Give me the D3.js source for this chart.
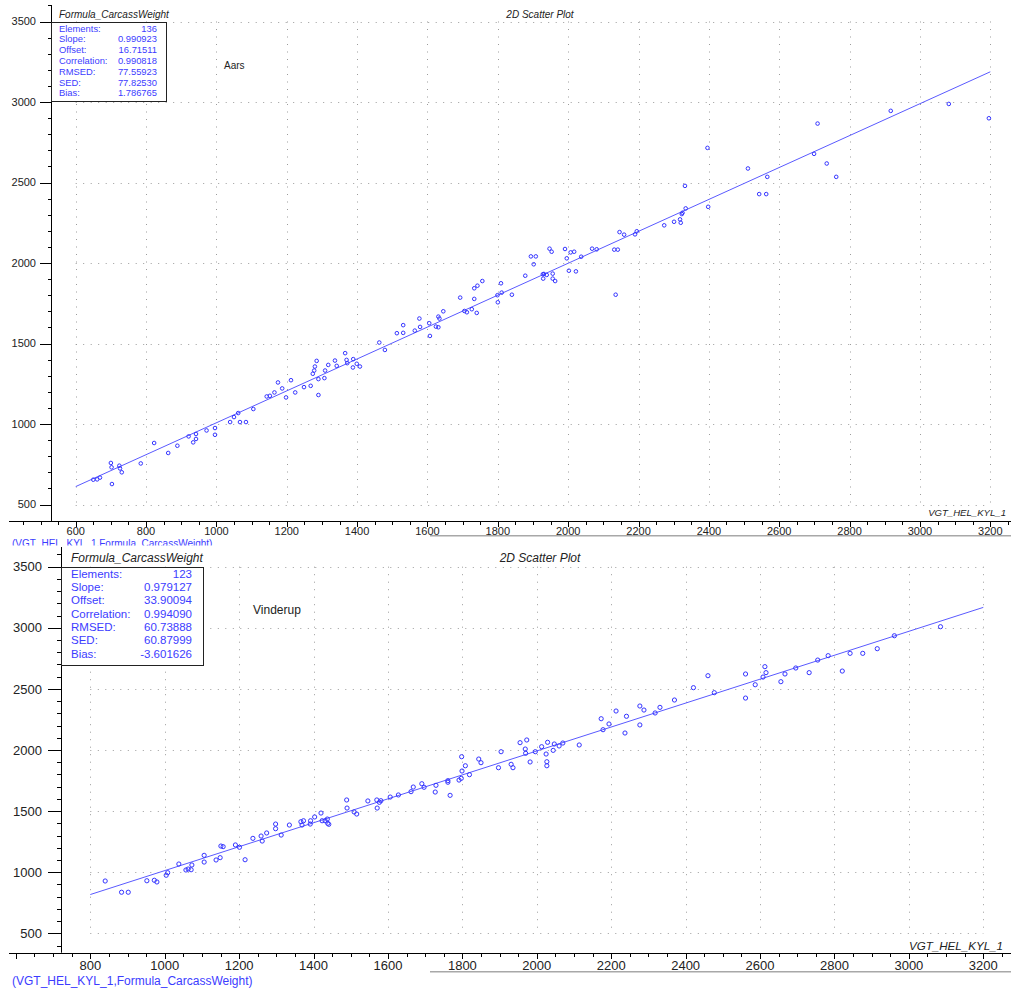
<!DOCTYPE html>
<html>
<head>
<meta charset="utf-8">
<script src="https://cdn.jsdelivr.net/npm/d3@7"></script>
<style>
  html, body { margin: 0; padding: 0; background: #fff; }
  svg { display: block; font-family: "Liberation Sans", Arial, sans-serif; }
</style>
</head>
<body>
<svg id="chart" width="1011" height="988"></svg>
<script>
// ---- Data: Aars site (reference x vs formula y) ----
const aarsX = [1513,1463,1479,1366,1370,1389,1399,1408,1388,1372,1337,1342,1318,1285,1280,1278,1274,1309,1307,1290,
  1290,1268,1249,1224,1212,1198,1187,1175,1165,1152,1143,1105,1084,1067,1039,1062,1050,996,996,972,
  942,921,942,934,889,863,823,785,724,700,702,726,731,703,669,661,650,
  1531,1531,1564,1577,1579,1605,1607,1624,1631,1631,1634,1645,1693,1705,1712,1726,1733,1740,1733,1742,
  1756,1799,1800,1809,1811,1840,1878,1894,1908,1902,1928,1931,1939,1929,1947,1953,1956,1956,1963,1991,
  1996,2002,2007,2017,2022,2037,2068,2081,2131,2141,2135,2146,2159,2190,2195,2273,2301,
  2318,2320,2323,2325,2334,2332,2396,2398,2511,2543,2563,2566,2699,2709,2735,2762,2917,3082,3196];
const aarsY = [1564,1506,1460,1440,1398,1403,1374,1357,1351,1378,1394,1361,1367,1392,1357,1332,1312,1332,1285,1279,
  1180,1237,1229,1196,1272,1165,1221,1258,1196,1175,1171,1093,1012,1012,1012,1068,1043,975,933,960,
  938,923,907,886,865,820,882,755,741,758,731,724,700,627,667,656,654,
  1614,1566,1580,1655,1603,1626,1547,1605,1601,1667,1655,1700,1785,1702,1694,1713,1777,1690,1843,1859,
  1888,1800,1756,1874,1816,1803,1921,2041,2041,1992,1930,1932,1926,1903,2089,2070,1934,1903,1888,2087,
  2029,1952,2066,2070,1948,2039,2089,2085,2083,2083,1803,2192,2176,2178,2197,2234,2256,
  2271,2250,2304,2312,2339,2479,2715,2349,2587,2428,2428,2535,2678,2866,2618,2535,2945,2988,2899];

// ---- Data: Vinderup site ----
const vinderupX = [840,884,902,952,972,979,1004,1008,1038,1057,1063,1071,1073,1106,1106,1138,1149,1151,1157,1190,
  1201,1216,1237,1259,1262,1274,1298,1298,1313,1335,1366,1373,1369,1392,1391,1403,1420,1423,1431,1437,
  1438,1441,1489,1490,1509,1516,1546,1570,1577,1571,1581,1606,1628,
  1662,1668,1691,1697,1727,1729,1761,1761,1767,1791,1797,1799,1798,1808,1819,1844,1850,1897,1904,1931,
  1936,1955,1973,1969,1970,1982,1996,2013,2025,2029,2027,2027,2044,2047,2060,2070,2114,2173,2178,2194,
  2213,2237,2241,2277,2277,2288,2318,2331,2370,
  2421,2460,2477,2561,2561,2587,2608,2613,2616,2656,2667,2696,2732,2755,2783,2821,2842,2876,2915,2961,3085];
const vinderupY = [928,836,836,930,934,920,975,996,1067,1018,1026,1020,1059,1138,1083,1100,1119,1214,1209,1223,
  1204,1102,1277,1296,1255,1321,1394,1356,1304,1386,1413,1421,1386,1421,1394,1452,1484,1421,1421,1435,
  1400,1392,1591,1525,1493,1476,1583,1591,1572,1525,1585,1615,1632,
  1659,1697,1724,1695,1656,1711,1749,1736,1629,1754,1768,1828,1945,1871,1798,1926,1896,1855,1986,1883,
  1855,2060,2082,2008,1973,1902,1986,2027,1967,2063,1904,1871,1997,2049,2033,2057,2041,2256,2166,2213,
  2319,2139,2276,2205,2360,2327,2303,2349,2409,
  2510,2608,2469,2622,2425,2534,2597,2682,2633,2559,2622,2671,2633,2736,2772,2646,2791,2791,2829,2935,3009];

// ---- Regression statistics shown in the boxes ----
const statLabels = ["Elements:", "Slope:", "Offset:", "Correlation:", "RMSED:", "SED:", "Bias:"];
const aarsStats = ["136", "0.990923", "16.71511", "0.990818", "77.55923", "77.82530", "1.786765"];
const vinderupStats = ["123", "0.979127", "33.90094", "0.994090", "60.73888", "60.87999", "-3.601626"];

// ---- Axis ticks and texts ----
const aarsXTicks = [600, 800, 1000, 1200, 1400, 1600, 1800, 2000, 2200, 2400, 2600, 2800, 3000, 3200];
const vinderupXTicks = [800, 1000, 1200, 1400, 1600, 1800, 2000, 2200, 2400, 2600, 2800, 3000, 3200];
const yTicks = [500, 1000, 1500, 2000, 2500, 3000, 3500];
const xFieldName = "VGT_HEL_KYL_1";
const yFieldName = "Formula_CarcassWeight";
const plotTitle = "2D Scatter Plot";
const pairLabel = "(VGT_HEL_KYL_1,Formula_CarcassWeight)";

// ---- Panel layout ----
const panels = [
  {
    site: "Aars", xs: aarsX, ys: aarsY, stats: aarsStats, xTicks: aarsXTicks,
    clip: [0, 0, 1011, 545.5],
    xRange: [75.7, 990.3], yRange: [504.5, 21.5],
    yAxisX: 51, axisTop: 5, xAxisY: 521, axisLeft: 9, axisRight: 1011,
    tickFont: 11, yLabelRight: 36, yMajor: 11, yMinor: 3, xMajor: 5, xMinor: 3, xLabelBase: 534.5,
    titleX: 59, titleBase: 17.5, titleFont: 10,
    box: [51, 21.5, 166, 100], statFont: 9.4, statLabelX: 59, statValueX: 157, statBase: 31.6, statStep: 10.8,
    siteX: 224, siteBase: 68.5, siteFont: 10,
    xTitleRight: 1006, xTitleBase: 515.5, xTitleFont: 9.6,
    pairX: 12, pairBase: 546.5, pairFont: 10,
    sepY: 535.7, sepX0: 430,
    r: 1.8
  },
  {
    site: "Vinderup", xs: vinderupX, ys: vinderupY, stats: vinderupStats, xTicks: vinderupXTicks,
    clip: [0, 545.5, 1011, 442.5],
    xRange: [90.3, 983.3], yRange: [933.3, 566.7],
    yAxisX: 61, axisTop: 547, xAxisY: 952.7, axisLeft: 9, axisRight: 1011,
    tickFont: 13, yLabelRight: 42, yMajor: 13, yMinor: 4, xMajor: 5, xMinor: 3, xLabelBase: 970,
    titleX: 71, titleBase: 561.5, titleFont: 12,
    box: [61, 566.7, 203, 664.3], statFont: 11.5, statLabelX: 71, statValueX: 192, statBase: 577.6, statStep: 13.33,
    siteX: 253, siteBase: 613.5, siteFont: 12,
    xTitleRight: 1003, xTitleBase: 949.5, xTitleFont: 11.6,
    pairX: 12, pairBase: 984.5, pairFont: 12,
    sepY: 971.7, sepX0: 430,
    r: 2.1
  }
];

const svg = d3.select("#chart");
const defs = svg.append("defs");
const BLUE = "#3c3cff";
const GRID = "#9c9c9c";

panels.forEach((p, i) => {
  const xDom = [p.xTicks[0], p.xTicks[p.xTicks.length - 1]];
  const x = d3.scaleLinear().domain(xDom).range(p.xRange);
  const y = d3.scaleLinear().domain([yTicks[0], yTicks[yTicks.length - 1]]).range(p.yRange);

  defs.append("clipPath").attr("id", "panel" + i)
    .append("rect").attr("x", p.clip[0]).attr("y", p.clip[1]).attr("width", p.clip[2]).attr("height", p.clip[3]);
  const g = svg.append("g").attr("clip-path", `url(#panel${i})`);

  // separator at the foot of the panel
  g.append("line").attr("x1", p.sepX0).attr("x2", 1011).attr("y1", p.sepY).attr("y2", p.sepY)
    .attr("stroke", "#a8a8a8").attr("stroke-width", 1.5);

  // dotted grid over the tick box
  const grid = g.append("g").attr("stroke", GRID).attr("stroke-width", 1).attr("stroke-dasharray", "1,6.5");
  p.xTicks.forEach(t => grid.append("line")
    .attr("x1", Math.round(x(t)) + 0.5).attr("x2", Math.round(x(t)) + 0.5)
    .attr("y1", y(yTicks[yTicks.length - 1])).attr("y2", y(yTicks[0])));
  yTicks.forEach(t => grid.append("line")
    .attr("x1", x(xDom[0])).attr("x2", x(xDom[1]))
    .attr("y1", Math.round(y(t)) + 0.5).attr("y2", Math.round(y(t)) + 0.5));

  // axes
  const ax = g.append("g").attr("stroke", "#000").attr("stroke-width", 1);
  ax.append("line").attr("x1", p.axisLeft).attr("x2", p.axisRight)
    .attr("y1", Math.round(p.xAxisY) + 0.5).attr("y2", Math.round(p.xAxisY) + 0.5);
  ax.append("line").attr("x1", p.yAxisX + 0.5).attr("x2", p.yAxisX + 0.5)
    .attr("y1", p.axisTop).attr("y2", p.xAxisY);

  // x ticks: major every 200, minor every 50 along the whole axis line
  const xLo = Math.ceil(x.invert(p.axisLeft) / 50) * 50, xHi = x.invert(p.axisRight);
  d3.range(xLo, xHi, 50).forEach(v => {
    const major = v % 200 === 0;
    const px = Math.round(x(v)) + 0.5;
    ax.append("line").attr("x1", px).attr("x2", px)
      .attr("y1", Math.round(p.xAxisY)).attr("y2", Math.round(p.xAxisY) + 1 + (major ? p.xMajor : p.xMinor));
  });
  // y ticks: major every 500, minor every 100
  const yLo = Math.ceil(y.invert(p.xAxisY) / 100) * 100, yHi = y.invert(p.axisTop);
  d3.range(yLo, yHi, 100).forEach(v => {
    const major = v % 500 === 0 && v >= yTicks[0] && v <= yTicks[yTicks.length - 1];
    const py = Math.round(y(v)) + 0.5;
    ax.append("line").attr("x1", p.yAxisX - (major ? p.yMajor : p.yMinor)).attr("x2", p.yAxisX)
      .attr("y1", py).attr("y2", py);
  });

  // tick labels
  g.append("g").selectAll("text").data(p.xTicks).join("text")
    .attr("x", d => x(d)).attr("y", p.xLabelBase).attr("text-anchor", "middle")
    .attr("font-size", p.tickFont).attr("fill", "#222").text(d => d);
  g.append("g").selectAll("text").data(yTicks).join("text")
    .attr("x", p.yLabelRight).attr("y", d => y(d)).attr("dy", "0.36em").attr("text-anchor", "end")
    .attr("font-size", p.tickFont).attr("fill", "#222").text(d => d);

  // regression line from the stated slope and offset
  const slope = +p.stats[1], offset = +p.stats[2];
  g.append("line")
    .attr("x1", x(xDom[0])).attr("y1", y(slope * xDom[0] + offset))
    .attr("x2", x(xDom[1])).attr("y2", y(slope * xDom[1] + offset))
    .attr("stroke", "#5a5aff").attr("stroke-width", 1);

  // points
  g.append("g").selectAll("circle").data(p.xs.map((v, k) => [v, p.ys[k]])).join("circle")
    .attr("cx", d => x(d[0])).attr("cy", d => y(d[1])).attr("r", p.r)
    .attr("fill", "none").attr("stroke", "#3434ff").attr("stroke-width", 1);

  // titles
  g.append("text").attr("x", p.titleX).attr("y", p.titleBase).attr("font-size", p.titleFont)
    .attr("font-style", "italic").attr("fill", "#222").text(yFieldName);
  g.append("text").attr("x", 540).attr("y", p.titleBase).attr("font-size", p.titleFont)
    .attr("text-anchor", "middle").attr("font-style", "italic").attr("fill", "#222").text(plotTitle);
  g.append("text").attr("x", p.xTitleRight).attr("y", p.xTitleBase).attr("font-size", p.xTitleFont)
    .attr("text-anchor", "end").attr("font-style", "italic").attr("fill", "#222").text(xFieldName);
  g.append("text").attr("x", p.siteX).attr("y", p.siteBase).attr("font-size", p.siteFont)
    .attr("fill", "#222").text(p.site);
  g.append("text").attr("x", p.pairX).attr("y", p.pairBase).attr("font-size", p.pairFont)
    .attr("fill", BLUE).text(pairLabel);

  // statistics box
  const [bx0, by0, bx1, by1] = p.box;
  g.append("rect").attr("x", bx0 + 0.5).attr("y", Math.round(by0) + 0.5)
    .attr("width", bx1 - bx0).attr("height", Math.round(by1 - by0))
    .attr("fill", "#fff").attr("stroke", "#222").attr("stroke-width", 1);
  statLabels.forEach((lab, k) => {
    const by = p.statBase + k * p.statStep;
    g.append("text").attr("x", p.statLabelX).attr("y", by).attr("font-size", p.statFont)
      .attr("fill", BLUE).text(lab);
    g.append("text").attr("x", p.statValueX).attr("y", by).attr("font-size", p.statFont)
      .attr("text-anchor", "end").attr("fill", BLUE).text(p.stats[k]);
  });
});
</script>
</body>
</html>
